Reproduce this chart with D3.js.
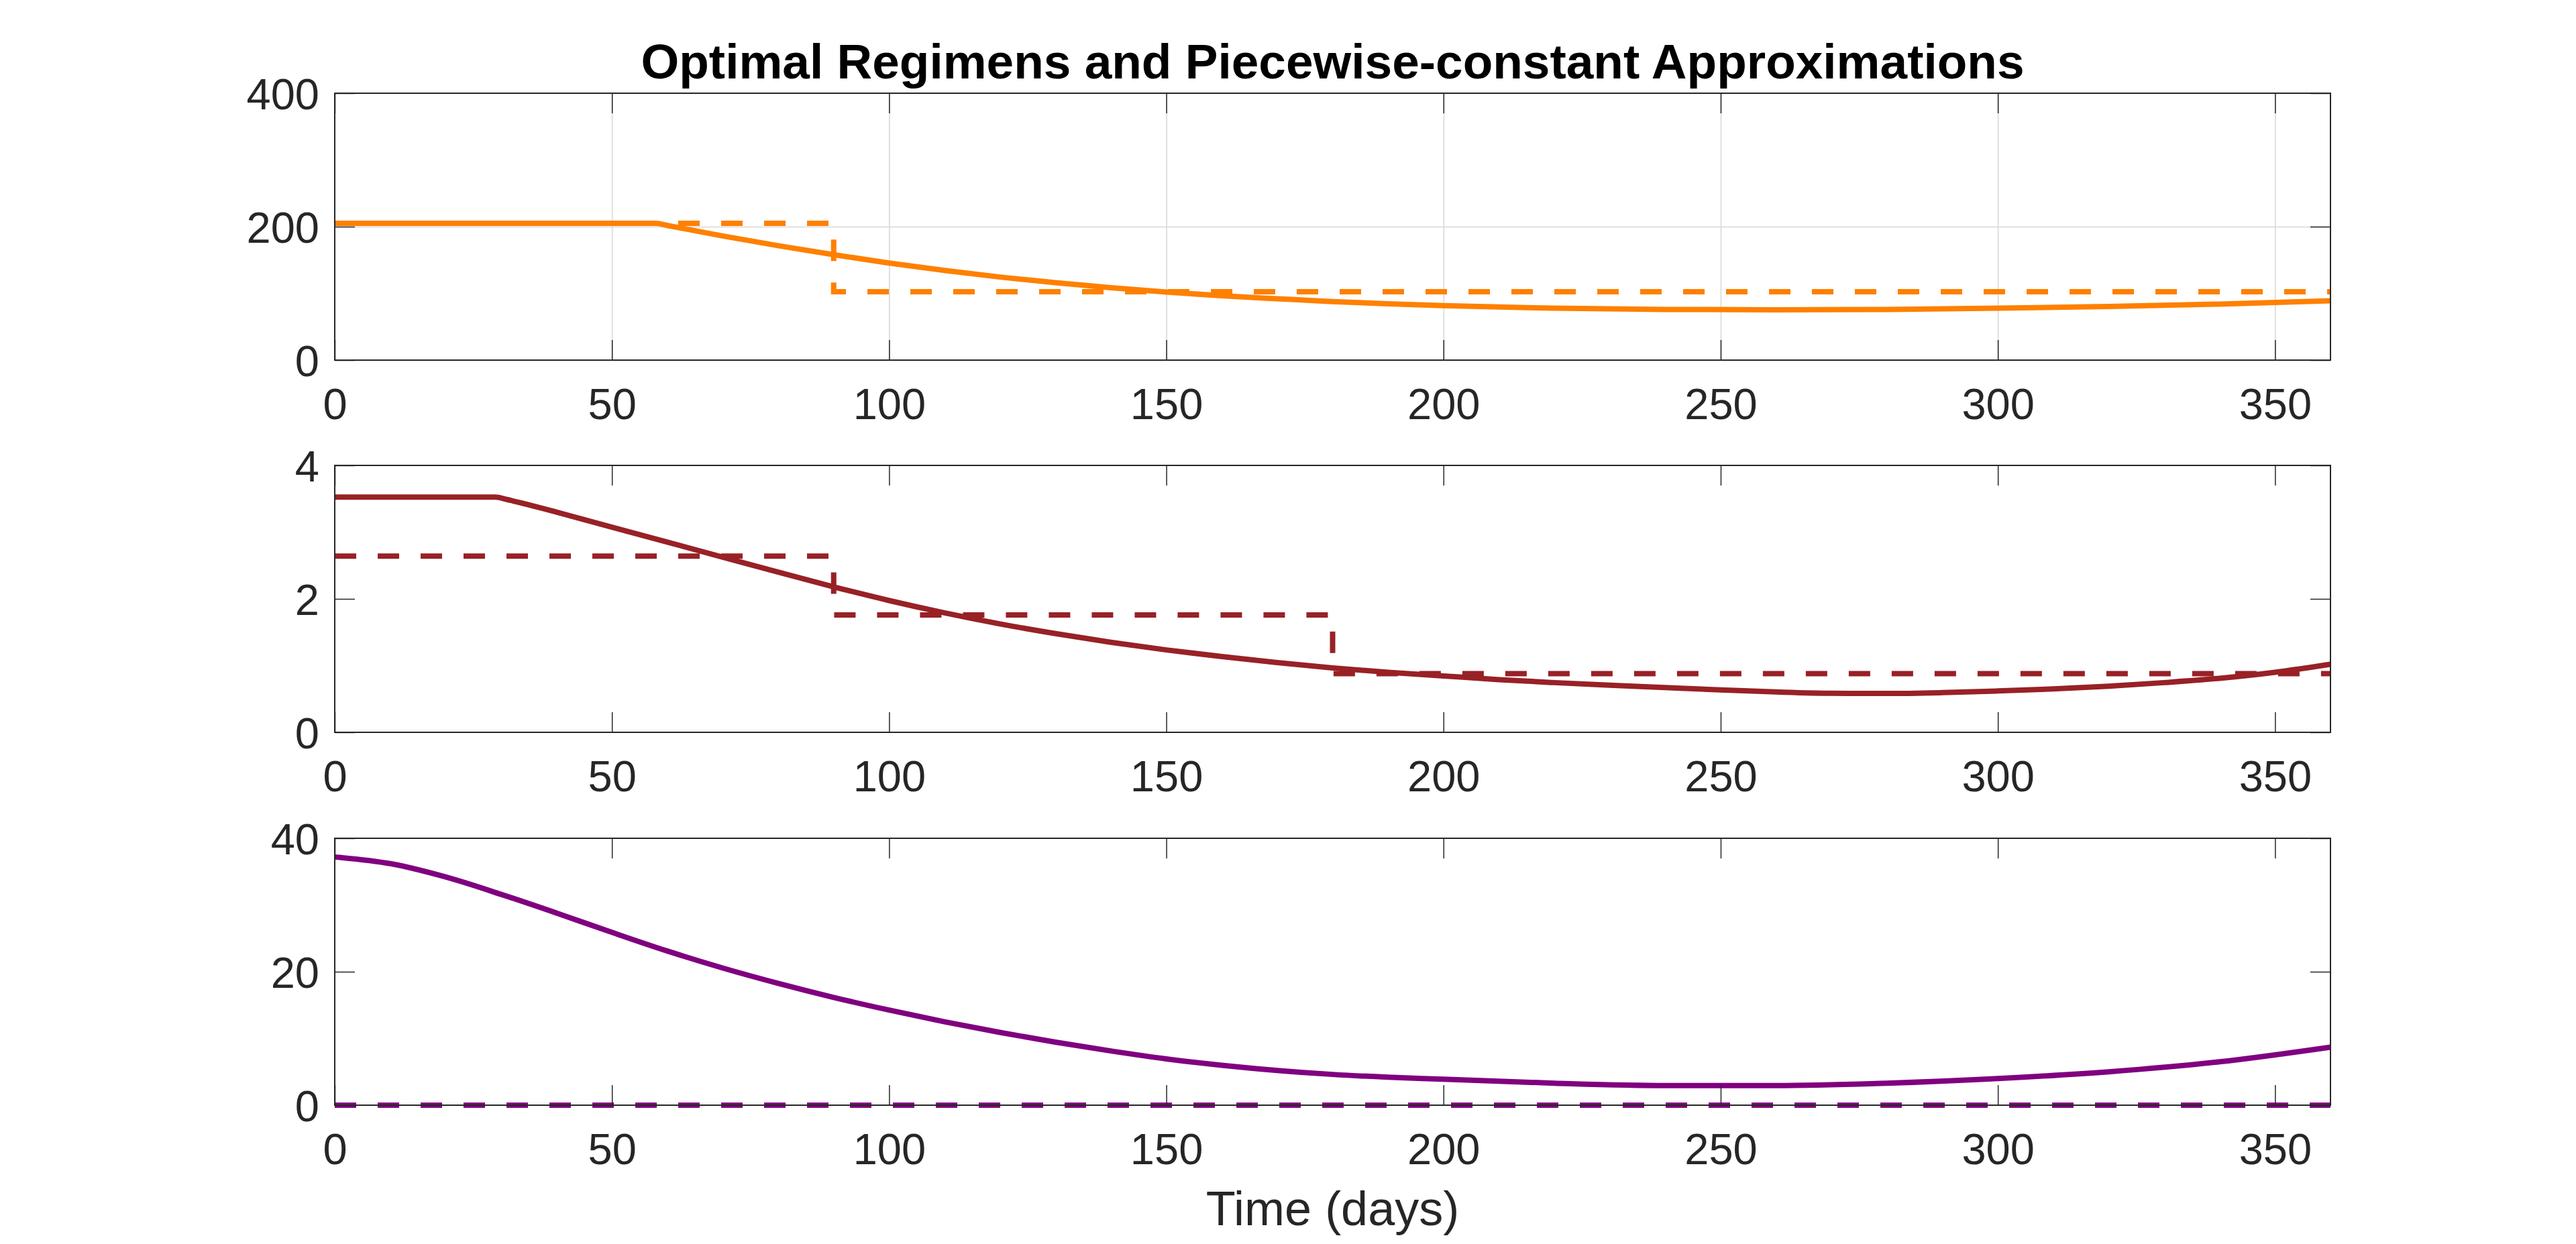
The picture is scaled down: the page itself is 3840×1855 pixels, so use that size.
<!DOCTYPE html>
<html>
  <head>
    <title>Optimal Regimens</title>
    <style>
      body {
        margin: 0;
        background: #ffffff;
      }
      svg {
        display: block;
        font-family: "Liberation Sans", Arial, Helvetica, sans-serif;
      }
    </style>
  </head>
  <body>
    <svg id="canvas" width="3840" height="1855"></svg>
    <script src="https://d3js.org/d3.v7.min.js"></script>
    <script>
      // Optimal regimen, drug 1 (top panel)
      var days1 = [0, 58, 60, 70, 80, 90, 100, 110, 120, 130, 140, 150, 160, 170, 180, 190, 200,
        220, 240, 260, 280, 300, 320, 340, 360];
      var optimal1 = [205, 205, 201.8, 186, 171.5, 158, 145.5, 134.5, 124.5, 116, 108.5, 102, 96.5, 92, 87.8, 84.5, 81.6,
        77.8, 76, 75.5, 76, 77.8, 80.5, 84, 89];

      // Optimal regimen, drug 2 (middle panel)
      var days2 = [0, 29, 31, 40, 50, 60, 70, 80, 90, 100, 110, 120, 130, 140, 150, 160, 170, 180, 190, 200,
        210, 220, 230, 240, 250, 260, 270, 280, 290, 300, 310, 320, 330, 340, 350, 360];
      var optimal2 = [3.525, 3.525, 3.49, 3.30, 3.075, 2.85, 2.625, 2.40, 2.18, 1.975, 1.79, 1.625, 1.48, 1.35, 1.235,
        1.135, 1.045, 0.965, 0.90, 0.845, 0.79, 0.745, 0.705, 0.67, 0.635, 0.605, 0.585, 0.582, 0.595, 0.62,
        0.65, 0.69, 0.745, 0.81, 0.90, 1.02];

      // Optimal regimen, drug 3 (bottom panel)
      var days3 = [0, 10, 20, 30, 40, 50, 60, 70, 80, 90, 100, 110, 120, 130, 140, 150, 160, 170, 180, 190, 200,
        220, 240, 260, 280, 300, 320, 340, 360];
      var optimal3 = [37.2, 36.2, 34.2, 31.6, 28.8, 25.9, 23.1, 20.55, 18.25, 16.15, 14.25, 12.5, 10.9, 9.45, 8.13, 6.94,
        5.99, 5.21, 4.61, 4.19, 3.9, 3.3, 2.95, 2.95, 3.3, 4.0, 5.0, 6.5, 8.7];

      // Piecewise-constant approximations: switch days and levels
      var stepDays1 = [0, 90, 360];
      var stepLevels1 = [205, 102.5, 102.5];
      var stepDays2 = [0, 90, 180, 360];
      var stepLevels2 = [2.64, 1.76, 0.88, 0.88];
      var stepDays3 = [0, 360];
      var stepLevels3 = [0, 0];

      // Axis ticks
      var xTicks = [0, 50, 100, 150, 200, 250, 300, 350];
      var yTicks1 = [0, 200, 400];
      var yTicks2 = [0, 2, 4];
      var yTicks3 = [0, 20, 40];

      const plotLeft = 499;
      const plotRight = 3474;
      const panelHeight = 398;
      const tickLen = 30;
      const axisColor = "#262626";

      var svg = d3.select("#canvas");

      var x = d3.scaleLinear().domain([0, 360]).range([plotLeft, plotRight]);

      // Main.
      drawPanel(139, 400, yTicks1, days1, optimal1, stepDays1, stepLevels1, "#ff8000", true);
      drawPanel(694, 4, yTicks2, days2, optimal2, stepDays2, stepLevels2, "#982126", false);
      drawPanel(1250, 40, yTicks3, days3, optimal3, stepDays3, stepLevels3, "#800080", false);

      // Title
      svg
        .append("text")
        .attr("x", (plotLeft + plotRight) / 2)
        .attr("y", 117)
        .attr("text-anchor", "middle")
        .attr("font-size", "73px")
        .attr("font-weight", "bold")
        .attr("fill", "#000000")
        .text("Optimal Regimens and Piecewise-constant Approximations");

      // X label
      svg
        .append("text")
        .attr("x", (plotLeft + plotRight) / 2)
        .attr("y", 1827)
        .attr("text-anchor", "middle")
        .attr("font-size", "72px")
        .attr("fill", axisColor)
        .text("Time (days)");

      /*
       * Draws one panel: grid, curves, box and ticks
       */
      function drawPanel(top, yMax, yTicks, days, solid, stepDays, stepLevels, color, withGrid) {
        const bottom = top + panelHeight;
        var y = d3.scaleLinear().domain([0, yMax]).range([bottom, top]);
        var g = svg.append("g");

        // grid lines (top panel only)
        if (withGrid) {
          var gx = g
            .append("g")
            .attr("transform", "translate(0," + bottom + ")")
            .call(d3.axisBottom(x).tickValues(xTicks.slice(1)).tickSize(-panelHeight).tickFormat(""));
          var gy = g
            .append("g")
            .attr("transform", "translate(" + plotLeft + ",0)")
            .call(d3.axisLeft(y).tickValues(yTicks.slice(1, -1)).tickSize(-(plotRight - plotLeft)).tickFormat(""));
          [gx, gy].forEach(a => {
            a.select(".domain").remove();
            a.selectAll("line").attr("stroke", "#dfdfdf").attr("stroke-width", 2);
          });
        }

        // piecewise-constant approximation (dashed)
        var stepLine = d3
          .line()
          .x(d => x(d[0]))
          .y(d => y(d[1]))
          .curve(d3.curveStepAfter);
        g.append("path")
          .attr("d", stepLine(stepDays.map((d, i) => [d, stepLevels[i]])))
          .attr("fill", "none")
          .attr("stroke", color)
          .attr("stroke-width", 8)
          .attr("stroke-dasharray", "32,32");

        // optimal regimen (solid)
        var curveLine = d3
          .line()
          .x(d => x(d[0]))
          .y(d => y(d[1]))
          .curve(d3.curveMonotoneX);
        g.append("path")
          .attr("d", curveLine(days.map((d, i) => [d, solid[i]])))
          .attr("fill", "none")
          .attr("stroke", color)
          .attr("stroke-width", 8)
          .attr("stroke-linejoin", "round");

        // ticks, inward on all four sides
        var axB = g
          .append("g")
          .attr("transform", "translate(0," + bottom + ")")
          .call(d3.axisBottom(x).tickValues(xTicks).tickSize(-tickLen).tickSizeOuter(0).tickFormat(d3.format("d")));
        var axT = g
          .append("g")
          .attr("transform", "translate(0," + top + ")")
          .call(d3.axisTop(x).tickValues(xTicks).tickSize(-tickLen).tickSizeOuter(0).tickFormat(""));
        var axL = g
          .append("g")
          .attr("transform", "translate(" + plotLeft + ",0)")
          .call(d3.axisLeft(y).tickValues(yTicks).tickSize(-tickLen).tickSizeOuter(0).tickFormat(d3.format("d")));
        var axR = g
          .append("g")
          .attr("transform", "translate(" + plotRight + ",0)")
          .call(d3.axisRight(y).tickValues(yTicks).tickSize(-tickLen).tickSizeOuter(0).tickFormat(""));

        [axB, axT, axL, axR].forEach(a => {
          a.select(".domain").remove();
          a.attr("font-family", null).attr("font-size", null);
          a.selectAll("line").attr("stroke", axisColor).attr("stroke-width", 1.5);
        });

        axB.selectAll("text")
          .attr("y", 88)
          .attr("dy", null)
          .attr("font-size", "65px")
          .attr("fill", axisColor);
        axL.selectAll("text")
          .attr("x", -23)
          .attr("y", 0)
          .attr("dy", 23)
          .attr("font-size", "65px")
          .attr("fill", axisColor);

        // axes box
        g.append("rect")
          .attr("x", plotLeft)
          .attr("y", top)
          .attr("width", plotRight - plotLeft)
          .attr("height", panelHeight)
          .attr("fill", "none")
          .attr("stroke", axisColor)
          .attr("stroke-width", 2);
      }
    </script>
  </body>
</html>
